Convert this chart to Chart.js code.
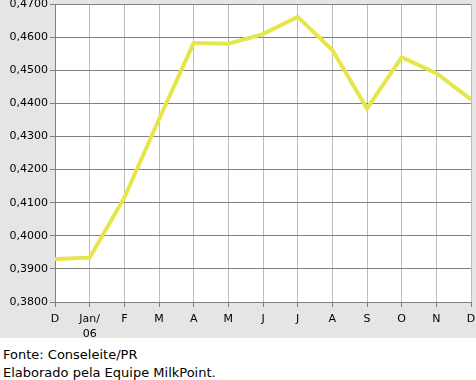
<!DOCTYPE html>
<html>
<head>
<meta charset="utf-8">
<script src="https://cdn.jsdelivr.net/npm/chart.js@4/dist/chart.umd.min.js"></script>
<style>
  body { margin: 0; background: #fff; font-family: "DejaVu Sans", Verdana, sans-serif; }
  #wrap { width: 476px; height: 338px; background: #e5e5e5; }
  .nota { font-size: 13px; color: #000; line-height: 18px; padding-left: 3px; }
  #notas { padding-top: 8px; }
</style>
</head>
<body>
<div id="wrap"><canvas id="chart" width="476" height="338"></canvas></div>
<div id="notas">
  <div class="nota">Fonte: Conseleite/PR</div>
  <div class="nota">Elaborado pela Equipe MilkPoint.</div>
</div>
<script>
// meses (dez/05 a dez/06)
const meses = ["D", ["Jan/", "06"], "F", "M", "A", "M", "J", "J", "A", "S", "O", "N", "D"];
// preço médio (R$/litro)
const precos = [0.3930, 0.3934, 0.4115, 0.4352, 0.4582, 0.4580, 0.4609, 0.4661, 0.4561, 0.4384, 0.4539, 0.4491, 0.4412];
const yMin = 0.38, yMax = 0.47, yPasso = 0.01;

// fundo branco só na área do gráfico
const fundoPlot = {
    id: "fundoPlot",
    beforeDraw(c) {
        const a = c.chartArea;
        c.ctx.save();
        c.ctx.fillStyle = "#ffffff";
        c.ctx.fillRect(a.left, a.top, a.right - a.left, a.bottom - a.top);
        c.ctx.restore();
    }
};

new Chart(document.getElementById("chart"), {
    type: "line",
    data: {
        labels: meses,
        datasets: [{
            data: precos,
            borderColor: "#e6e64a",
            borderWidth: 4,
            pointRadius: 0,
            tension: 0,
            fill: false
        }]
    },
    options: {
        responsive: false,
        animation: false,
        layout: { padding: { top: 4, right: 5, left: 0, bottom: 0 } },
        plugins: { legend: { display: false }, tooltip: { enabled: false } },
        scales: {
            x: {
                offset: false,
                grid: { color: "#bcbcbc", tickColor: "#808080", tickLength: 5, drawOnChartArea: true },
                border: { color: "#808080", width: 1 },
                ticks: {
                    color: "#000", maxRotation: 0, autoSkip: false, padding: 5,
                    font: { family: "DejaVu Sans", size: 11, lineHeight: "15px" }
                },
                afterFit(s) { s.height = 36; s.paddingLeft = 0; s.paddingRight = 0; }
            },
            y: {
                min: yMin, max: yMax,
                grid: { color: "#808080", tickColor: "#808080", tickLength: 5 },
                border: { color: "#808080", width: 1 },
                ticks: {
                    stepSize: yPasso, color: "#000", padding: 2,
                    font: { family: "DejaVu Sans", size: 11 },
                    callback: v => v.toFixed(4).replace(".", ",")
                },
                afterFit(s) { s.width = 55; s.paddingTop = 0; s.paddingBottom = 0; }
            }
        }
    },
    plugins: [fundoPlot]
});
</script>
</body>
</html>
